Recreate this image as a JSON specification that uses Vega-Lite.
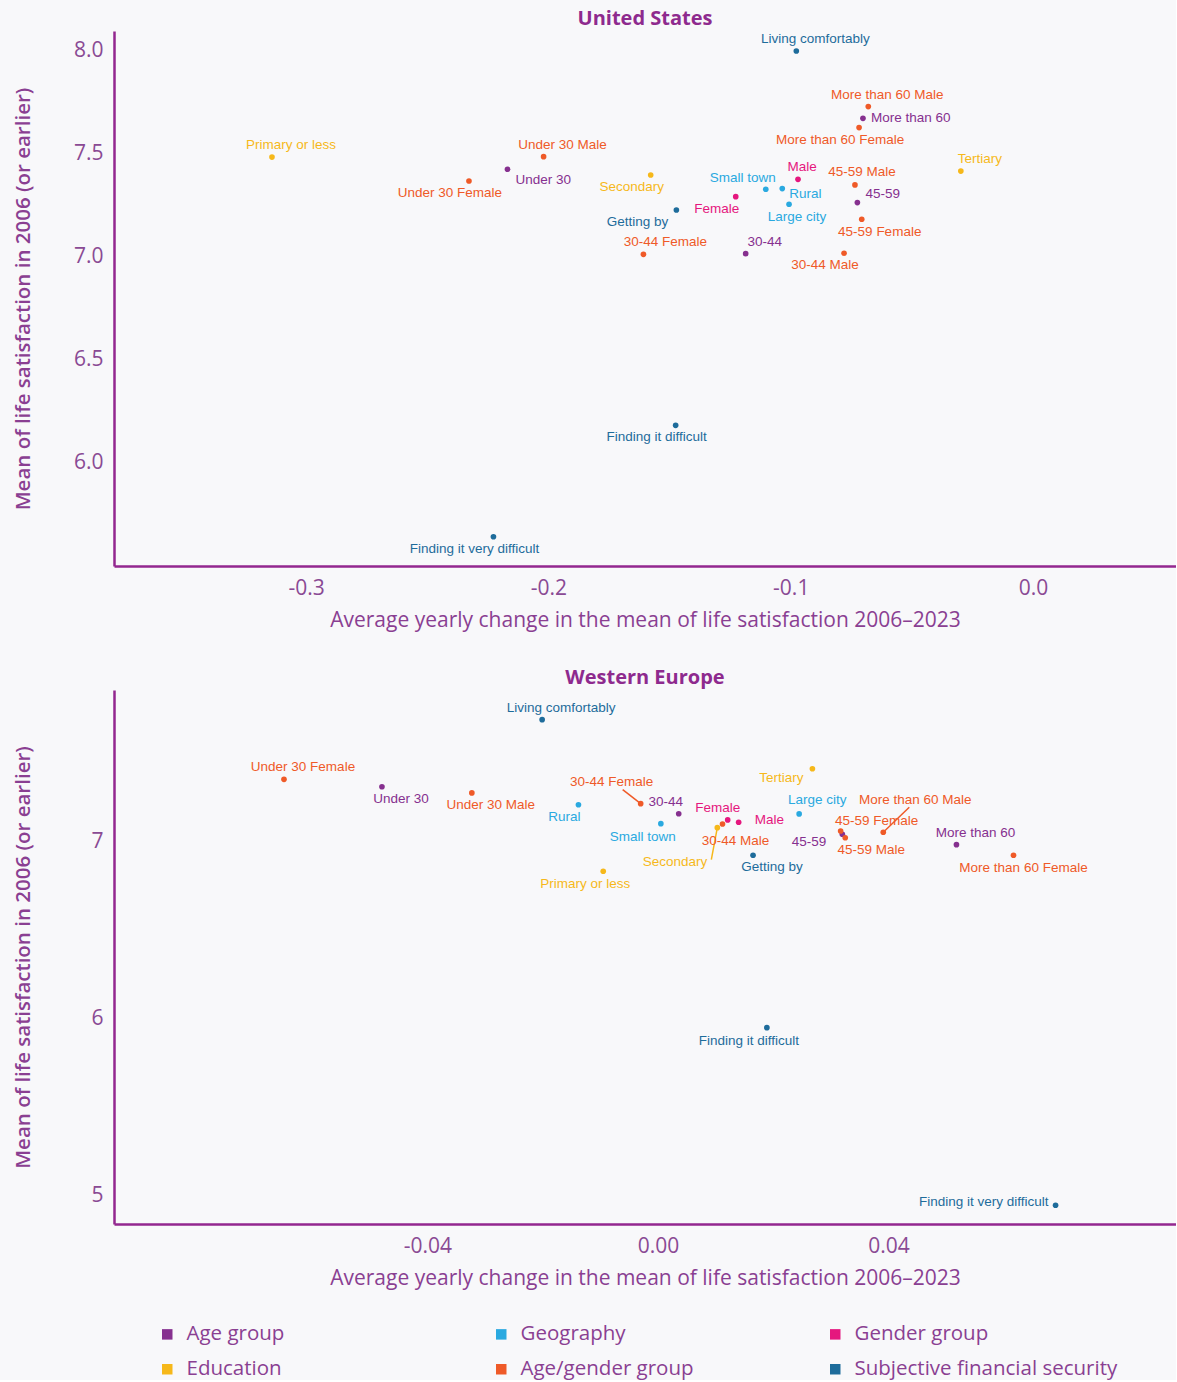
{
  "$schema": "https://vega.github.io/schema/vega-lite/v6.json",
  "background": "#F8F8FA",
  "padding": {"left": 13, "top": 9, "right": 0, "bottom": 0},
  "datasets": {
    "us": [
      {"label": "Living comfortably", "group": "Subjective financial security", "x": -0.0977, "y": 8.0},
      {"label": "Getting by", "group": "Subjective financial security", "x": -0.1472, "y": 7.228},
      {"label": "Finding it difficult", "group": "Subjective financial security", "x": -0.1475, "y": 6.183},
      {"label": "Finding it very difficult", "group": "Subjective financial security", "x": -0.2227, "y": 5.642},
      {"label": "Primary or less", "group": "Education", "x": -0.3141, "y": 7.485},
      {"label": "Secondary", "group": "Education", "x": -0.1578, "y": 7.398},
      {"label": "Tertiary", "group": "Education", "x": -0.0298, "y": 7.417},
      {"label": "Under 30", "group": "Age group", "x": -0.2169, "y": 7.426},
      {"label": "30-44", "group": "Age group", "x": -0.1186, "y": 7.016},
      {"label": "45-59", "group": "Age group", "x": -0.0725, "y": 7.264},
      {"label": "More than 60", "group": "Age group", "x": -0.0702, "y": 7.673},
      {"label": "Under 30 Male", "group": "Age/gender group", "x": -0.202, "y": 7.487},
      {"label": "Under 30 Female", "group": "Age/gender group", "x": -0.2328, "y": 7.369},
      {"label": "30-44 Female", "group": "Age/gender group", "x": -0.1608, "y": 7.013},
      {"label": "30-44 Male", "group": "Age/gender group", "x": -0.078, "y": 7.018},
      {"label": "45-59 Male", "group": "Age/gender group", "x": -0.0735, "y": 7.35},
      {"label": "45-59 Female", "group": "Age/gender group", "x": -0.0707, "y": 7.183},
      {"label": "More than 60 Male", "group": "Age/gender group", "x": -0.068, "y": 7.73},
      {"label": "More than 60 Female", "group": "Age/gender group", "x": -0.0718, "y": 7.628},
      {"label": "Female", "group": "Gender group", "x": -0.1227, "y": 7.293},
      {"label": "Male", "group": "Gender group", "x": -0.097, "y": 7.377},
      {"label": "Small town", "group": "Geography", "x": -0.1103, "y": 7.329},
      {"label": "Rural", "group": "Geography", "x": -0.1035, "y": 7.332},
      {"label": "Large city", "group": "Geography", "x": -0.1007, "y": 7.256}
    ],
    "we": [
      {"label": "Living comfortably", "group": "Subjective financial security", "x": -0.0201, "y": 7.693},
      {"label": "Getting by", "group": "Subjective financial security", "x": 0.0165, "y": 6.925},
      {"label": "Finding it difficult", "group": "Subjective financial security", "x": 0.0189, "y": 5.948},
      {"label": "Finding it very difficult", "group": "Subjective financial security", "x": 0.069, "y": 4.942},
      {"label": "Primary or less", "group": "Education", "x": -0.0095, "y": 6.834},
      {"label": "Secondary", "group": "Education", "x": 0.0103, "y": 7.081},
      {"label": "Tertiary", "group": "Education", "x": 0.0268, "y": 7.415},
      {"label": "Under 30", "group": "Age group", "x": -0.0479, "y": 7.313},
      {"label": "30-44", "group": "Age group", "x": 0.0036, "y": 7.16},
      {"label": "45-59", "group": "Age group", "x": 0.032, "y": 7.044},
      {"label": "More than 60", "group": "Age group", "x": 0.0518, "y": 6.985},
      {"label": "Under 30 Male", "group": "Age/gender group", "x": -0.0323, "y": 7.278},
      {"label": "Under 30 Female", "group": "Age/gender group", "x": -0.0649, "y": 7.355},
      {"label": "30-44 Female", "group": "Age/gender group", "x": -0.003, "y": 7.217},
      {"label": "30-44 Male", "group": "Age/gender group", "x": 0.0112, "y": 7.102},
      {"label": "45-59 Male", "group": "Age/gender group", "x": 0.0325, "y": 7.024},
      {"label": "45-59 Female", "group": "Age/gender group", "x": 0.0317, "y": 7.062},
      {"label": "More than 60 Male", "group": "Age/gender group", "x": 0.0391, "y": 7.055},
      {"label": "More than 60 Female", "group": "Age/gender group", "x": 0.0617, "y": 6.925},
      {"label": "Female", "group": "Gender group", "x": 0.0121, "y": 7.125},
      {"label": "Male", "group": "Gender group", "x": 0.014, "y": 7.112},
      {"label": "Small town", "group": "Geography", "x": 0.0005, "y": 7.104},
      {"label": "Rural", "group": "Geography", "x": -0.0138, "y": 7.211},
      {"label": "Large city", "group": "Geography", "x": 0.0245, "y": 7.159}
    ]
  },
  "resolve": {"scale": {"x": "independent", "y": "independent", "color": "shared"}, "legend": {"color": "independent"}},
  "spacing": 38,
  "vconcat": [
    {
      "data": {"name": "us"},
      "width": 1062,
      "height": 535,
      "title": {"text": "United States"},
      "encoding": {
        "x": {"field": "x", "type": "quantitative", "scale": {"domain": [-0.3793, 0.059], "nice": false, "zero": false},
              "axis": {"title": "Average yearly change in the mean of life satisfaction 2006–2023", "values": [-0.3, -0.2, -0.1, 0], "format": ".1f", "labelExpr": "replace(datum.label, '−', '-')"}},
        "y": {"field": "y", "type": "quantitative", "scale": {"domain": [5.5, 8.097], "nice": false, "zero": false},
              "axis": {"title": "Mean of life satisfaction in 2006 (or earlier)", "values": [6, 6.5, 7, 7.5, 8], "format": ".1f"}}
      },
      "layer": [
        {"data": {"values": [{}]}, "mark": {"type": "rule", "color": "#B7ACD3", "strokeWidth": 1.5},
         "encoding": {"x": {"datum": 0, "type": "quantitative"}, "y": {"datum": 8.097, "type": "quantitative"}, "y2": {"datum": 5.5}}},
        {"mark": {"type": "circle", "size": 32, "opacity": 1},
         "encoding": {"color": {"field": "group", "type": "nominal", "legend": null,
           "scale": {"domain": ["Age group", "Geography", "Gender group", "Education", "Age/gender group", "Subjective financial security"],
                     "range": ["#86308F", "#2AA9E0", "#E5177E", "#F6B81A", "#EF5A28", "#1E6C9B"]}}}},
        {"transform": [{"filter": {"field": "label", "oneOf": ["Living comfortably", "More than 60 Male", "Primary or less", "Under 30 Male", "Tertiary", "30-44"]}}],
         "mark": {"type": "text", "align": "center", "dx": 19, "dy": -12},
         "encoding": {"text": {"field": "label"}, "color": {"field": "group", "type": "nominal", "legend": null}}},
        {"transform": [{"filter": {"field": "label", "oneOf": ["30-44 Female"]}}],
         "mark": {"type": "text", "align": "center", "dx": 22, "dy": -12},
         "encoding": {"text": {"field": "label"}, "color": {"field": "group", "type": "nominal", "legend": null}}},
        {"transform": [{"filter": {"field": "label", "oneOf": ["More than 60 Female", "Under 30 Female", "Secondary", "Female", "30-44 Male", "Finding it difficult", "Finding it very difficult"]}}],
         "mark": {"type": "text", "align": "center", "dx": -19, "dy": 12},
         "encoding": {"text": {"field": "label"}, "color": {"field": "group", "type": "nominal", "legend": null}}},
        {"transform": [{"filter": {"field": "label", "oneOf": ["Under 30"]}}],
         "mark": {"type": "text", "align": "left", "dx": 8, "dy": 11},
         "encoding": {"text": {"field": "label"}, "color": {"field": "group", "type": "nominal", "legend": null}}},
        {"transform": [{"filter": {"field": "label", "oneOf": ["More than 60"]}}],
         "mark": {"type": "text", "align": "left", "dx": 8, "dy": 0},
         "encoding": {"text": {"field": "label"}, "color": {"field": "group", "type": "nominal", "legend": null}}},
        {"transform": [{"filter": {"field": "label", "oneOf": ["Rural"]}}],
         "mark": {"type": "text", "align": "left", "dx": 7, "dy": 5},
         "encoding": {"text": {"field": "label"}, "color": {"field": "group", "type": "nominal", "legend": null}}},
        {"transform": [{"filter": {"field": "label", "oneOf": ["45-59"]}}],
         "mark": {"type": "text", "align": "left", "dx": 8, "dy": -9},
         "encoding": {"text": {"field": "label"}, "color": {"field": "group", "type": "nominal", "legend": null}}},
        {"transform": [{"filter": {"field": "label", "oneOf": ["Getting by"]}}],
         "mark": {"type": "text", "align": "right", "dx": -8, "dy": 12},
         "encoding": {"text": {"field": "label"}, "color": {"field": "group", "type": "nominal", "legend": null}}},
        {"transform": [{"filter": {"field": "label", "oneOf": ["Small town"]}}],
         "mark": {"type": "text", "align": "right", "dx": 10, "dy": -11},
         "encoding": {"text": {"field": "label"}, "color": {"field": "group", "type": "nominal", "legend": null}}},
        {"transform": [{"filter": {"field": "label", "oneOf": ["Large city"]}}],
         "mark": {"type": "text", "align": "center", "dx": 8, "dy": 13},
         "encoding": {"text": {"field": "label"}, "color": {"field": "group", "type": "nominal", "legend": null}}},
        {"transform": [{"filter": {"field": "label", "oneOf": ["45-59 Female"]}}],
         "mark": {"type": "text", "align": "center", "dx": 18, "dy": 13},
         "encoding": {"text": {"field": "label"}, "color": {"field": "group", "type": "nominal", "legend": null}}},
        {"transform": [{"filter": {"field": "label", "oneOf": ["Male"]}}],
         "mark": {"type": "text", "align": "center", "dx": 4, "dy": -12},
         "encoding": {"text": {"field": "label"}, "color": {"field": "group", "type": "nominal", "legend": null}}},
        {"transform": [{"filter": {"field": "label", "oneOf": ["45-59 Male"]}}],
         "mark": {"type": "text", "align": "center", "dx": 7, "dy": -13},
         "encoding": {"text": {"field": "label"}, "color": {"field": "group", "type": "nominal", "legend": null}}}
      ]
    },
    {
      "data": {"name": "we"},
      "width": 1062,
      "height": 534,
      "title": {"text": "Western Europe"},
      "encoding": {
        "x": {"field": "x", "type": "quantitative", "scale": {"domain": [-0.0944, 0.0899], "nice": false, "zero": false},
              "axis": {"title": "Average yearly change in the mean of life satisfaction 2006–2023", "values": [-0.04, 0, 0.04], "format": ".2f", "labelExpr": "replace(datum.label, '−', '-')"}},
        "y": {"field": "y", "type": "quantitative", "scale": {"domain": [4.836, 7.861], "nice": false, "zero": false},
              "axis": {"title": "Mean of life satisfaction in 2006 (or earlier)", "values": [5, 6, 7], "format": "d"}}
      },
      "layer": [
        {"data": {"values": [{}]}, "mark": {"type": "rule", "color": "#B7ACD3", "strokeWidth": 1.5},
         "encoding": {"x": {"datum": 0, "type": "quantitative"}, "y": {"datum": 7.635, "type": "quantitative"}, "y2": {"datum": 4.836}}},
        {"transform": [{"filter": {"field": "label", "equal": "30-44 Female"}}],
         "mark": {"type": "rule", "x2Offset": -18, "y2Offset": -14, "strokeWidth": 1.5},
         "encoding": {"x2": {"field": "x"}, "y2": {"field": "y"}, "color": {"field": "group", "type": "nominal"}}},
        {"transform": [{"filter": {"field": "label", "equal": "Secondary"}}],
         "mark": {"type": "rule", "x2Offset": -6, "y2Offset": 32, "strokeWidth": 1.5},
         "encoding": {"x2": {"field": "x"}, "y2": {"field": "y"}, "color": {"field": "group", "type": "nominal"}}},
        {"transform": [{"filter": {"field": "label", "equal": "More than 60 Male"}}],
         "mark": {"type": "rule", "x2Offset": 26, "y2Offset": -25, "strokeWidth": 1.5},
         "encoding": {"x2": {"field": "x"}, "y2": {"field": "y"}, "color": {"field": "group", "type": "nominal"}}},
        {"mark": {"type": "circle", "size": 32, "opacity": 1},
         "encoding": {"color": {"field": "group", "type": "nominal",
           "scale": {"domain": ["Age group", "Geography", "Gender group", "Education", "Age/gender group", "Subjective financial security"],
                     "range": ["#86308F", "#2AA9E0", "#E5177E", "#F6B81A", "#EF5A28", "#1E6C9B"]},
           "legend": {"orient": "none", "legendX": 43, "legendY": 634, "columns": 3, "direction": "horizontal", "title": null,
                      "symbolType": "square", "symbolSize": 110, "symbolOpacity": 1, "symbolStrokeWidth": 0,
                      "labelFont": "Open Sans", "labelFontSize": 20.5, "labelColor": "#8A3F92", "labelOffset": 9,
                      "columnPadding": 41, "rowPadding": 14, "gridAlign": "all", "labelLimit": 400}}}},
        {"transform": [{"filter": {"field": "label", "oneOf": ["Living comfortably", "Under 30 Female", "More than 60"]}}],
         "mark": {"type": "text", "align": "center", "dx": 19, "dy": -12},
         "encoding": {"text": {"field": "label"}, "color": {"field": "group", "type": "nominal"}}},
        {"transform": [{"filter": {"field": "label", "oneOf": ["Under 30", "Under 30 Male", "Getting by"]}}],
         "mark": {"type": "text", "align": "center", "dx": 19, "dy": 12},
         "encoding": {"text": {"field": "label"}, "color": {"field": "group", "type": "nominal"}}},
        {"transform": [{"filter": {"field": "label", "oneOf": ["Rural"]}}],
         "mark": {"type": "text", "align": "right", "dx": 2, "dy": 12},
         "encoding": {"text": {"field": "label"}, "color": {"field": "group", "type": "nominal"}}},
        {"transform": [{"filter": {"field": "label", "oneOf": ["30-44 Female"]}}],
         "mark": {"type": "text", "align": "center", "dx": -29, "dy": -22},
         "encoding": {"text": {"field": "label"}, "color": {"field": "group", "type": "nominal"}}},
        {"transform": [{"filter": {"field": "label", "oneOf": ["30-44"]}}],
         "mark": {"type": "text", "align": "center", "dx": -13, "dy": -12},
         "encoding": {"text": {"field": "label"}, "color": {"field": "group", "type": "nominal"}}},
        {"transform": [{"filter": {"field": "label", "oneOf": ["Small town", "Primary or less", "Finding it difficult"]}}],
         "mark": {"type": "text", "align": "center", "dx": -18, "dy": 13},
         "encoding": {"text": {"field": "label"}, "color": {"field": "group", "type": "nominal"}}},
        {"transform": [{"filter": {"field": "label", "oneOf": ["Female"]}}],
         "mark": {"type": "text", "align": "center", "dx": -10, "dy": -12},
         "encoding": {"text": {"field": "label"}, "color": {"field": "group", "type": "nominal"}}},
        {"transform": [{"filter": {"field": "label", "oneOf": ["Male"]}}],
         "mark": {"type": "text", "align": "left", "dx": 16, "dy": -2},
         "encoding": {"text": {"field": "label"}, "color": {"field": "group", "type": "nominal"}}},
        {"transform": [{"filter": {"field": "label", "oneOf": ["30-44 Male"]}}],
         "mark": {"type": "text", "align": "center", "dx": 13, "dy": 17},
         "encoding": {"text": {"field": "label"}, "color": {"field": "group", "type": "nominal"}}},
        {"transform": [{"filter": {"field": "label", "oneOf": ["Secondary"]}}],
         "mark": {"type": "text", "align": "right", "dx": -10, "dy": 34},
         "encoding": {"text": {"field": "label"}, "color": {"field": "group", "type": "nominal"}}},
        {"transform": [{"filter": {"field": "label", "oneOf": ["Tertiary"]}}],
         "mark": {"type": "text", "align": "right", "dx": -9, "dy": 9},
         "encoding": {"text": {"field": "label"}, "color": {"field": "group", "type": "nominal"}}},
        {"transform": [{"filter": {"field": "label", "oneOf": ["Large city"]}}],
         "mark": {"type": "text", "align": "center", "dx": 18, "dy": -14},
         "encoding": {"text": {"field": "label"}, "color": {"field": "group", "type": "nominal"}}},
        {"transform": [{"filter": {"field": "label", "oneOf": ["45-59"]}}],
         "mark": {"type": "text", "align": "right", "dx": -16, "dy": 8},
         "encoding": {"text": {"field": "label"}, "color": {"field": "group", "type": "nominal"}}},
        {"transform": [{"filter": {"field": "label", "oneOf": ["45-59 Female"]}}],
         "mark": {"type": "text", "align": "center", "dx": 36, "dy": -10},
         "encoding": {"text": {"field": "label"}, "color": {"field": "group", "type": "nominal"}}},
        {"transform": [{"filter": {"field": "label", "oneOf": ["45-59 Male"]}}],
         "mark": {"type": "text", "align": "center", "dx": 26, "dy": 12},
         "encoding": {"text": {"field": "label"}, "color": {"field": "group", "type": "nominal"}}},
        {"transform": [{"filter": {"field": "label", "oneOf": ["More than 60 Male"]}}],
         "mark": {"type": "text", "align": "center", "dx": 32, "dy": -32},
         "encoding": {"text": {"field": "label"}, "color": {"field": "group", "type": "nominal"}}},
        {"transform": [{"filter": {"field": "label", "oneOf": ["More than 60 Female"]}}],
         "mark": {"type": "text", "align": "center", "dx": 10, "dy": 13},
         "encoding": {"text": {"field": "label"}, "color": {"field": "group", "type": "nominal"}}},
        {"transform": [{"filter": {"field": "label", "oneOf": ["Finding it very difficult"]}}],
         "mark": {"type": "text", "align": "right", "dx": -7, "dy": -3},
         "encoding": {"text": {"field": "label"}, "color": {"field": "group", "type": "nominal"}}}
      ]
    }
  ],
  "config": {
    "view": {"stroke": null},
    "axis": {"domainColor": "#93278F", "domainWidth": 2.5, "ticks": false, "grid": false,
             "labelColor": "#8A4A94", "labelFont": "Open Sans", "labelFontSize": 21,
             "titleColor": "#8A3F92", "titleFont": "Open Sans", "titleFontSize": 21, "titleFontWeight": "normal"},
    "axisX": {"labelPadding": 11, "titlePadding": 11},
    "axisY": {"labelPadding": 11, "titlePadding": 36, "minExtent": 45, "maxExtent": 45, "titleFontWeight": 600, "titleFontSize": 20.5},
    "text": {"font": "Liberation Sans", "fontSize": 13.5, "baseline": "middle"},
    "title": {"font": "Open Sans", "fontSize": 20, "fontWeight": "bold", "color": "#8E2A8E", "anchor": "middle", "offset": 2}
  }
}
